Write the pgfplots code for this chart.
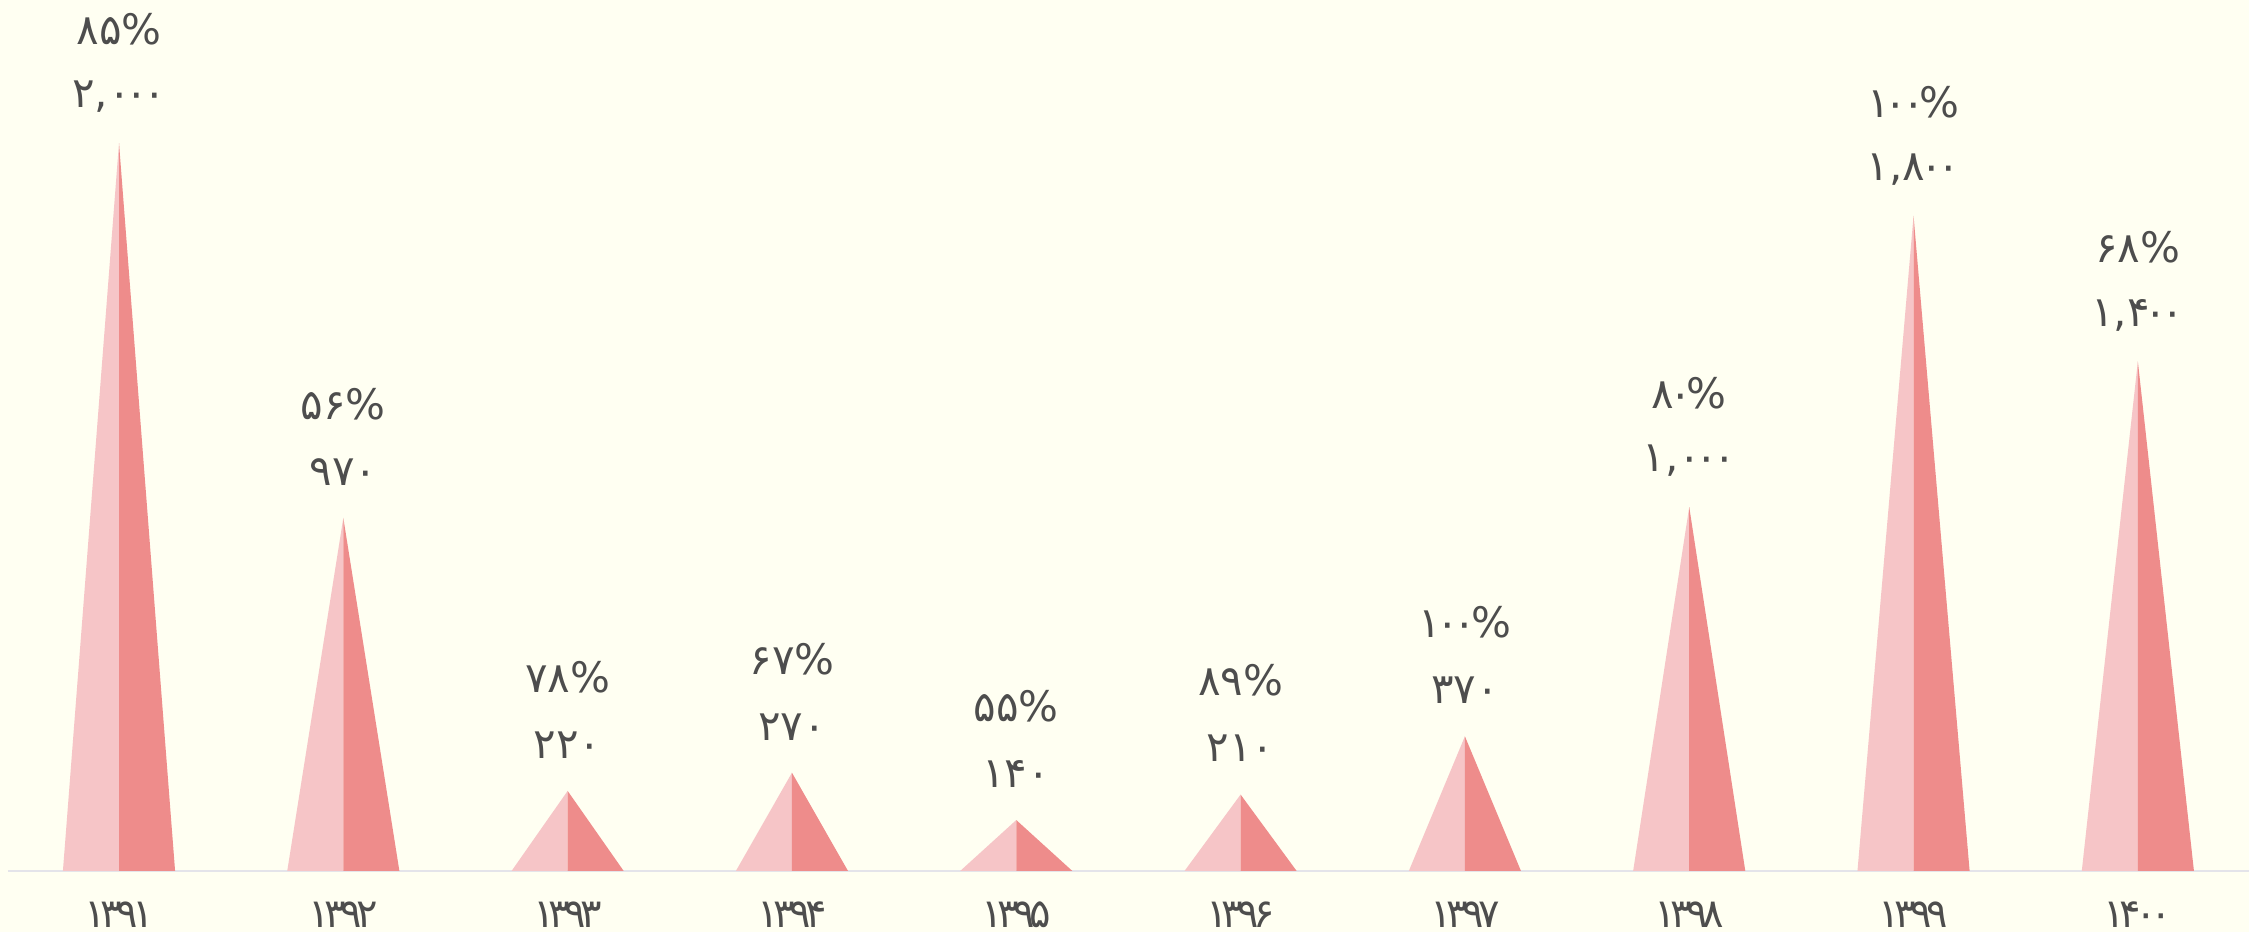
\documentclass[border=0pt]{standalone}
\usepackage{pgfplots}
\pgfplotsset{compat=1.18}
\usepackage{fontspec}
\newfontfamily\fa[Script=Arabic]{DejaVu Sans}
\newfontfamily\fay[Script=Arabic,LetterSpace=-14]{DejaVu Sans}
\newcommand\kk{\kern-1.3pt}
\definecolor{bg}{HTML}{FFFFF2}
\definecolor{lp}{HTML}{F6C5C7}
\definecolor{dp}{HTML}{EE8C8B}
\definecolor{txt}{HTML}{4D4D4D}
\definecolor{baseln}{HTML}{E4E4EA}
\begin{document}
\begin{tikzpicture}
\begin{axis}[name=ax, scale only axis, width=562.25pt, height=233pt,
  xmin=-0.5305, xmax=9.4955, ymin=-167.6, ymax=2392.9,
  hide axis, clip=false]
\fill[bg] (axis cs:-0.5305,-167.6) rectangle (axis cs:9.4955,2392.9);
\draw[baseln, line width=0.5pt] (axis cs:-0.495,0) -- (axis cs:9.4955,0);
% left halves (light) and right halves (dark)
\addplot[fill=lp,draw=none] coordinates {(-0.25,0) (0,2000) (0,0) (-0.25,0)};
\addplot[fill=dp,draw=none] coordinates {(0,0) (0,2000) (0.25,0) (0,0)};
\addplot[fill=lp,draw=none] coordinates {(0.75,0) (1,970) (1,0) (0.75,0)};
\addplot[fill=dp,draw=none] coordinates {(1,0) (1,970) (1.25,0) (1,0)};
\addplot[fill=lp,draw=none] coordinates {(1.75,0) (2,220) (2,0) (1.75,0)};
\addplot[fill=dp,draw=none] coordinates {(2,0) (2,220) (2.25,0) (2,0)};
\addplot[fill=lp,draw=none] coordinates {(2.75,0) (3,270) (3,0) (2.75,0)};
\addplot[fill=dp,draw=none] coordinates {(3,0) (3,270) (3.25,0) (3,0)};
\addplot[fill=lp,draw=none] coordinates {(3.75,0) (4,140) (4,0) (3.75,0)};
\addplot[fill=dp,draw=none] coordinates {(4,0) (4,140) (4.25,0) (4,0)};
\addplot[fill=lp,draw=none] coordinates {(4.75,0) (5,210) (5,0) (4.75,0)};
\addplot[fill=dp,draw=none] coordinates {(5,0) (5,210) (5.25,0) (5,0)};
\addplot[fill=lp,draw=none] coordinates {(5.75,0) (6,370) (6,0) (5.75,0)};
\addplot[fill=dp,draw=none] coordinates {(6,0) (6,370) (6.25,0) (6,0)};
\addplot[fill=lp,draw=none] coordinates {(6.75,0) (7,1000) (7,0) (6.75,0)};
\addplot[fill=dp,draw=none] coordinates {(7,0) (7,1000) (7.25,0) (7,0)};
\addplot[fill=lp,draw=none] coordinates {(7.75,0) (8,1800) (8,0) (7.75,0)};
\addplot[fill=dp,draw=none] coordinates {(8,0) (8,1800) (8.25,0) (8,0)};
\addplot[fill=lp,draw=none] coordinates {(8.75,0) (9,1400) (9,0) (8.75,0)};
\addplot[fill=dp,draw=none] coordinates {(9,0) (9,1400) (9.25,0) (9,0)};
% value labels
\addplot[draw=none, mark=none, point meta=explicit symbolic,
  nodes near coords, nodes near coords style={anchor=center, yshift=11.5pt, text=txt, font=\fa\fontsize{10.5}{12}\selectfont}]
  coordinates {(0,2000) [۲,۰\kk۰\kk۰] (1,970) [۹۷۰] (2,220) [۲۲۰] (3,270) [۲۷۰] (4,140) [۱۴۰]
  (5,210) [۲۱۰] (6,370) [۳۷۰] (7,1000) [۱,۰\kk۰\kk۰] (8,1800) [۱,۸\kk۰\kk۰] (9,1400) [۱,۴\kk۰\kk۰]};
% percent labels
\addplot[draw=none, mark=none, point meta=explicit symbolic,
  nodes near coords, nodes near coords style={anchor=center, yshift=28.5pt, text=txt, font=\fa\fontsize{10.5}{12}\selectfont}]
  coordinates {(0,2000) [۸۵\%] (1,970) [۵۶\%] (2,220) [۷۸\%] (3,270) [۶۷\%] (4,140) [۵۵\%]
  (5,210) [۸۹\%] (6,370) [۱\kk۰\kk۰\kk\%] (7,1000) [۸\kk۰\kk\%] (8,1800) [۱\kk۰\kk۰\kk\%] (9,1400) [۶۸\%]};
% category labels
\addplot[draw=none, mark=none, point meta=explicit symbolic,
  nodes near coords, nodes near coords style={anchor=center, text=txt, font=\fay\fontsize{10}{12}\selectfont}]
  coordinates {(0,-120) [۱۳۹۱] (1,-120) [۱۳۹۲] (2,-120) [۱۳۹۳] (3,-120) [۱۳۹۴] (4,-120) [۱۳۹۵]
  (5,-120) [۱۳۹۶] (6,-120) [۱۳۹۷] (7,-120) [۱۳۹۸] (8,-120) [۱۳۹۹] (9,-120) [۱۴۰۰]};
\end{axis}
\pgfresetboundingbox
\path[use as bounding box] (ax.south west) rectangle (ax.north east);
\end{tikzpicture}
\end{document}
